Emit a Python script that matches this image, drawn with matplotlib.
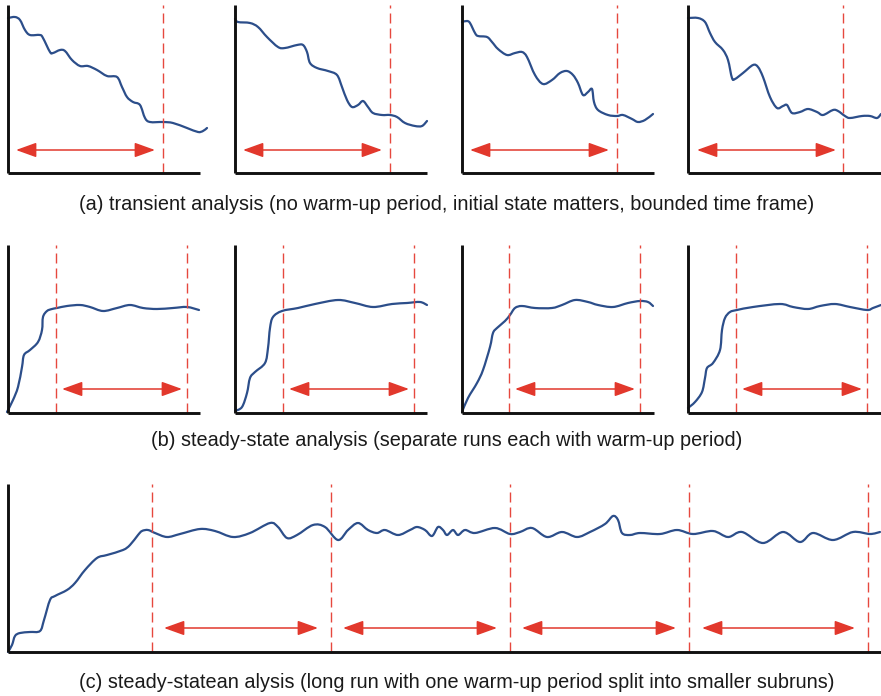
import numpy as np
import matplotlib
matplotlib.use('Agg')
import matplotlib.pyplot as plt
from matplotlib.path import Path
from matplotlib.patches import PathPatch, FancyArrowPatch

plt.rcParams['font.family'] = ['Liberation Sans', 'DejaVu Sans']

W, H = 881, 696

# ---------------- data (image-pixel units) ----------------
# Row (a): transient curves
a1_x = [8, 15, 20, 25, 30, 40, 43, 50, 53, 60, 65, 72, 80, 88, 97, 107, 117, 122, 127, 133, 140, 145, 150, 163, 173, 187, 198, 203, 207]
a1_y = [18, 17, 20, 30, 35, 35, 38, 52, 53, 50, 51, 60, 66, 66, 70, 76, 77, 87, 97, 102, 105, 118, 122, 122, 123, 128, 132, 131, 128]
a2_x = [235, 238, 250, 258, 267, 278, 285, 297, 303, 307, 310, 317, 328, 337, 342, 347, 352, 358, 363, 368, 373, 382, 390, 397, 405, 415, 422, 427]
a2_y = [19, 22, 23, 27, 37, 47, 48, 45, 45, 52, 63, 68, 71, 75, 87, 100, 107, 105, 101, 107, 113, 115, 115, 117, 123, 126, 126, 121]
a3_x = [462, 467, 470, 475, 478, 487, 492, 498, 507, 515, 522, 527, 535, 543, 552, 560, 567, 573, 578, 583, 588, 592, 594, 598, 608, 617, 623, 632, 638, 645, 653]
a3_y = [22, 21, 23, 33, 36, 37, 42, 49, 55, 53, 52, 57, 75, 84, 80, 73, 71, 75, 83, 95, 92, 89, 102, 110, 115, 116, 115, 119, 122, 120, 114]
a4_x = [688, 698, 705, 710, 715, 723, 728, 732, 735, 743, 753, 758, 763, 770, 777, 783, 787, 792, 800, 808, 817, 823, 833, 838, 845, 850, 862, 870, 877, 881]
a4_y = [18, 18, 22, 33, 42, 50, 60, 78, 79, 73, 65, 67, 77, 97, 108, 106, 105, 113, 112, 109, 112, 115, 110, 111, 116, 118, 116, 116, 118, 114]

# Row (b): steady-state curves with warm-up
b1_x = [7, 13, 18, 22, 24, 30, 38, 42, 43, 47, 52, 57, 67, 80, 90, 103, 117, 130, 143, 157, 173, 187, 199]
b1_y = [412, 400, 387, 367, 355, 350, 342, 330, 317, 311, 309, 308, 306, 305, 307, 311, 308, 305, 308, 309, 308, 307, 310]
b2_x = [235, 242, 247, 250, 255, 265, 268, 270, 273, 282, 298, 315, 338, 355, 373, 392, 407, 420, 427]
b2_y = [411, 407, 393, 378, 372, 363, 348, 328, 317, 311, 308, 304, 300, 303, 307, 304, 303, 302, 305]
b3_x = [462, 468, 477, 483, 490, 493, 497, 505, 510, 515, 522, 535, 552, 562, 575, 588, 598, 613, 628, 640, 648, 653]
b3_y = [412, 398, 383, 370, 347, 333, 328, 321, 315, 308, 306, 308, 308, 305, 300, 302, 305, 307, 303, 301, 302, 306]
b4_x = [688, 695, 702, 705, 707, 713, 720, 722, 725, 730, 737, 753, 780, 793, 808, 820, 835, 850, 867, 873, 881]
b4_y = [408, 402, 392, 378, 368, 363, 350, 330, 318, 312, 310, 307, 304, 307, 309, 306, 304, 307, 310, 308, 305]

# Row (c): one long run
c_x = [8, 12, 15, 20, 30, 40, 44, 50, 55, 67, 75, 85, 97, 107, 123, 130, 138, 142, 148, 155, 167, 180, 200, 215, 233, 250, 270, 278, 287, 297, 313, 325, 338, 348, 358, 368, 377, 385, 398, 410, 417, 425, 432, 438, 443, 447, 453, 458, 465, 475, 495, 510, 520, 532, 547, 562, 577, 590, 605, 613, 618, 622, 630, 640, 660, 677, 693, 713, 728, 742, 763, 783, 800, 813, 833, 853, 870, 880]
c_y = [652, 645, 636, 633, 632, 631, 620, 600, 596, 590, 583, 570, 558, 555, 550, 545, 535, 531, 530, 533, 537, 534, 529, 531, 537, 533, 523, 527, 538, 535, 525, 527, 540, 530, 523, 530, 533, 530, 535, 530, 527, 530, 536, 527, 530, 535, 530, 535, 530, 533, 528, 534, 532, 528, 537, 532, 537, 532, 524, 516, 520, 533, 535, 533, 534, 530, 534, 531, 537, 532, 543, 532, 542, 533, 540, 532, 534, 532]

# dashed boundaries and arrow spans (x positions)
a_dash = [163, 390, 617, 843]
a_arrows = [(16, 155), (243, 382), (470, 609), (697, 836)]
b_dash = [(56, 187), (283, 414), (509, 640), (736, 867)]
b_arrows = [(62, 182), (289, 409), (515, 635), (742, 862)]
c_dash = [152, 331, 510, 689, 868]
c_arrows = [(164, 318), (343, 497), (522, 676), (702, 855)]
arrow_y = {'a': 150, 'b': 389, 'c': 628}

captions = [
    "(a) transient analysis (no warm-up period, initial state matters, bounded time frame)",
    "(b) steady-state analysis (separate runs each with warm-up period)",
    "(c) steady-statean alysis (long run with one warm-up period split into smaller subruns)",
]

# ---------------- layout / style ----------------
BLUE = '#2c4e8a'
RED = '#e2382c'
DRED = '#e6483e'
a_boxes = [(8, 200), (235, 427), (462, 654), (688, 881)]
row_a = (5, 173)
row_b = (245, 413)
row_c = (484, 652)

fig = plt.figure(figsize=(W / 100, H / 100), dpi=100)


def make_ax(x0, x1, ytop, ybot):
    ax = fig.add_axes([x0 / W, 1 - ybot / H, (x1 - x0) / W, (ybot - ytop) / H])
    ax.set_xlim(x0, x1)
    ax.set_ylim(ybot, ytop)
    for s in ('top', 'right'):
        ax.spines[s].set_visible(False)
    for s in ('left', 'bottom'):
        ax.spines[s].set_linewidth(2.1)
        ax.spines[s].set_color('#111111')
        ax.spines[s].set_capstyle('butt')
    ax.set_xticks([])
    ax.set_yticks([])
    ax.patch.set_alpha(0)
    return ax


def smooth_path(xs, ys):
    P = np.column_stack([xs, ys]).astype(float)
    n = len(P)
    verts = [P[0]]
    codes = [Path.MOVETO]
    for i in range(n - 1):
        p0 = P[i - 1] if i > 0 else P[i]
        p1 = P[i]
        p2 = P[i + 1]
        p3 = P[i + 2] if i + 2 < n else P[i + 1]
        verts += [p1 + (p2 - p0) / 6, p2 - (p3 - p1) / 6, p2]
        codes += [Path.CURVE4] * 3
    return Path(verts, codes)


def draw_curve(ax, xs, ys):
    ax.add_patch(PathPatch(smooth_path(xs, ys), fill=False, edgecolor=BLUE,
                           lw=1.6, clip_on=False, capstyle='round', joinstyle='round'))


def draw_dash(ax, x, ytop, ybot):
    ax.plot([x, x], [ybot, ytop], color=DRED, lw=1.0, dashes=(7.2, 3.6), clip_on=False)


def draw_arrow(ax, x0, x1, y):
    ax.add_patch(FancyArrowPatch((x0, y), (x1, y),
                                 arrowstyle='<|-|>,head_length=1.25,head_width=0.45',
                                 mutation_scale=10, color=RED, lw=1.1,
                                 shrinkA=0, shrinkB=0, clip_on=False))


# Row (a)
a_curves = [(a1_x, a1_y), (a2_x, a2_y), (a3_x, a3_y), (a4_x, a4_y)]
for (x0, x1), (cx, cy), dx, (ax0, ax1) in zip(a_boxes, a_curves, a_dash, a_arrows):
    ax = make_ax(x0, x1, *row_a)
    draw_curve(ax, cx, cy)
    draw_dash(ax, dx, *row_a)
    draw_arrow(ax, ax0, ax1, arrow_y['a'])

# Row (b)
b_curves = [(b1_x, b1_y), (b2_x, b2_y), (b3_x, b3_y), (b4_x, b4_y)]
for (x0, x1), (cx, cy), dxs, (ax0, ax1) in zip(a_boxes, b_curves, b_dash, b_arrows):
    ax = make_ax(x0, x1, *row_b)
    draw_curve(ax, cx, cy)
    for dx in dxs:
        draw_dash(ax, dx, *row_b)
    draw_arrow(ax, ax0, ax1, arrow_y['b'])

# Row (c)
ax = make_ax(8, 881, *row_c)
draw_curve(ax, c_x, c_y)
for dx in c_dash:
    draw_dash(ax, dx, *row_c)
for ax0, ax1 in c_arrows:
    draw_arrow(ax, ax0, ax1, arrow_y['c'])

# Captions
for txt, (cx, cy) in zip(captions, [(447, 205), (447, 440), (457, 683)]):
    fig.text(cx / W, 1 - cy / H, txt, ha='center', va='center', fontsize=14.3, color='#1a1a1a')

fig.savefig('out.png', dpi=100)
